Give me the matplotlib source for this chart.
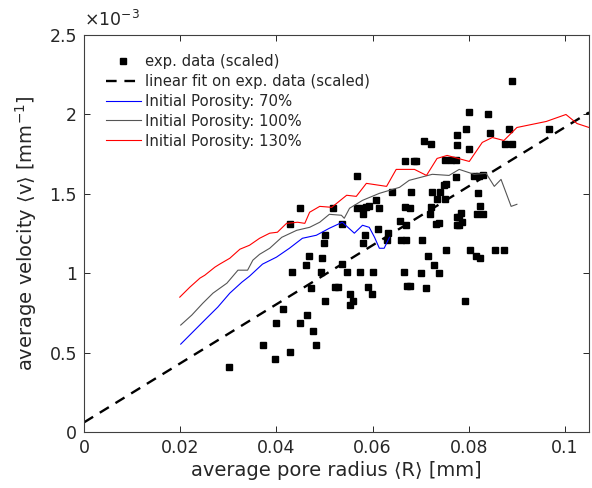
import numpy as np
import matplotlib
matplotlib.use("Agg")
import matplotlib.pyplot as plt
from matplotlib.ticker import FuncFormatter

# experimental data (scaled), velocity in units of 1e-3
exp_radius = [
    0.0301, 0.0373, 0.0396, 0.0429, 0.0400, 0.0448, 0.0413, 0.0463, 0.0477, 0.0483,
    0.0471, 0.0500, 0.0429, 0.0448, 0.0500, 0.0498, 0.0467, 0.0494, 0.0461, 0.0432,
    0.0492, 0.0546, 0.0573, 0.0600, 0.0537, 0.0521, 0.0527, 0.0591, 0.0554, 0.0560,
    0.0554, 0.0598, 0.0517, 0.0568, 0.0579, 0.0587, 0.0593, 0.0614, 0.0608, 0.0585,
    0.0581, 0.0568, 0.0641, 0.0680, 0.0724, 0.0741, 0.0668, 0.0685, 0.0691, 0.0751,
    0.0763, 0.0774, 0.0707, 0.0722, 0.0776, 0.0776, 0.0749, 0.0753, 0.0734, 0.0751,
    0.0668, 0.0678, 0.0722, 0.0720, 0.0737, 0.0732, 0.0656, 0.0776, 0.0776, 0.0612,
    0.0537, 0.0670, 0.0633, 0.0629, 0.0660, 0.0670, 0.0703, 0.0753, 0.0716, 0.0728,
    0.0739, 0.0666, 0.0701, 0.0672, 0.0678, 0.0712, 0.0579, 0.0824, 0.0817, 0.0830,
    0.0784, 0.0780, 0.0786, 0.0780, 0.0774, 0.0811, 0.0822, 0.0830, 0.0820, 0.0801,
    0.0840, 0.0795, 0.0844, 0.0801, 0.0890, 0.0884, 0.0967, 0.0876, 0.0890, 0.0803,
    0.0815, 0.0824, 0.0855, 0.0873, 0.0793,
]
exp_velocity = [
    0.409, 0.547, 0.459, 0.503, 0.686, 0.686, 0.774, 0.736, 0.635, 0.547,
    0.906, 0.824, 1.308, 1.409, 1.239, 1.189, 1.107, 1.094, 1.050, 1.006,
    1.006, 1.006, 1.006, 1.006, 1.057, 0.912, 0.912, 0.912, 0.868, 0.824,
    0.799, 0.868, 1.409, 1.409, 1.409, 1.415, 1.421, 1.409, 1.459, 1.239,
    1.189, 1.610, 1.509, 1.509, 1.509, 1.509, 1.704, 1.704, 1.704, 1.711,
    1.711, 1.711, 1.830, 1.811, 1.868, 1.805, 1.553, 1.560, 1.465, 1.465,
    1.415, 1.409, 1.415, 1.371, 1.314, 1.308, 1.327, 1.352, 1.302, 1.277,
    1.308, 1.302, 1.252, 1.208, 1.208, 1.208, 1.208, 1.145, 1.107, 1.050,
    1.000, 1.006, 1.000, 0.918, 0.918, 0.906, 1.371, 1.421, 1.371, 1.371,
    1.377, 1.352, 1.321, 1.302, 1.604, 1.610, 1.610, 1.616, 1.503, 2.013,
    2.006, 1.906, 1.881, 1.780, 2.208, 1.906, 1.906, 1.811, 1.811, 1.145,
    1.107, 1.094, 1.145, 1.145, 0.824,
]

# linear fit on exp. data (scaled)
fit_intercept = 0.06
fit_slope = 18.6

# simulations
r70 = [0.0201, 0.0226, 0.0255, 0.0278, 0.0303, 0.0328, 0.0344, 0.0371, 0.0400, 0.0427,
       0.0454, 0.0483, 0.0510, 0.0537, 0.0562, 0.0579, 0.0593, 0.0604, 0.0614, 0.0624,
       0.0635]
v70 = [0.553, 0.629, 0.717, 0.786, 0.874, 0.943, 0.981, 1.057, 1.101, 1.157,
       1.220, 1.239, 1.283, 1.321, 1.252, 1.302, 1.289, 1.226, 1.157, 1.157,
       1.226]

r100 = [0.0201, 0.0224, 0.0247, 0.0268, 0.0297, 0.0320, 0.0340, 0.0351, 0.0365, 0.0386,
        0.0411, 0.0442, 0.0469, 0.0490, 0.0510, 0.0535, 0.0541, 0.0552, 0.0579, 0.0614,
        0.0656, 0.0676, 0.0724, 0.0759, 0.0780, 0.0811, 0.0836, 0.0853, 0.0867, 0.0888,
        0.0900]
v100 = [0.673, 0.736, 0.811, 0.874, 0.937, 1.019, 1.019, 1.082, 1.119, 1.157,
        1.226, 1.270, 1.289, 1.321, 1.371, 1.365, 1.346, 1.409, 1.459, 1.503,
        1.541, 1.585, 1.623, 1.616, 1.654, 1.623, 1.629, 1.547, 1.591, 1.421,
        1.434]

r130 = [0.0199, 0.0220, 0.0241, 0.0251, 0.0272, 0.0282, 0.0303, 0.0324, 0.0344, 0.0365,
        0.0386, 0.0402, 0.0421, 0.0444, 0.0459, 0.0469, 0.0490, 0.0515, 0.0546, 0.0566,
        0.0587, 0.0629, 0.0649, 0.0687, 0.0712, 0.0734, 0.0755, 0.0801, 0.0828, 0.0849,
        0.0873, 0.0900, 0.0961, 0.1002, 0.1025, 0.1050]
v130 = [0.849, 0.912, 0.969, 0.987, 1.038, 1.057, 1.094, 1.151, 1.176, 1.220,
        1.252, 1.258, 1.314, 1.321, 1.314, 1.384, 1.421, 1.415, 1.491, 1.484,
        1.566, 1.547, 1.654, 1.654, 1.616, 1.723, 1.742, 1.704, 1.824, 1.855,
        1.836, 1.918, 1.956, 2.000, 1.943, 1.918]

X_MAX = 0.105
Y_MAX = 2.5
TEXT_COLOR = "#262626"

fig = plt.figure(figsize=(5.92, 4.88), dpi=100)
ax = fig.add_axes([0.142, 0.115, 0.853, 0.813])

ax.plot(exp_radius, exp_velocity, "s", color="black", markersize=3.8,
        label="exp. data (scaled)")
fit_x = np.array([0.0, X_MAX])
ax.plot(fit_x, fit_intercept + fit_slope * fit_x, color="black", linewidth=1.7,
        dashes=(4.5, 3.3), label="linear fit on exp. data (scaled)")
ax.plot(r70, v70, color="#0000ff", linewidth=0.8, label="Initial Porosity: 70%")
ax.plot(r100, v100, color="#555555", linewidth=0.8, label="Initial Porosity: 100%")
ax.plot(r130, v130, color="#ff0000", linewidth=0.8, label="Initial Porosity: 130%")

ax.set_xlim(0, X_MAX)
ax.set_ylim(0, Y_MAX)
ax.set_xticks([0, 0.02, 0.04, 0.06, 0.08, 0.1])
ax.set_yticks([0, 0.5, 1, 1.5, 2, 2.5])
fmt = FuncFormatter(lambda v, p: "%g" % v)
ax.xaxis.set_major_formatter(fmt)
ax.yaxis.set_major_formatter(fmt)
ax.tick_params(direction="in", top=True, right=True, length=4, width=0.7,
               labelsize=12.5, colors=TEXT_COLOR, pad=5)
for s in ax.spines.values():
    s.set_color("#404040")
    s.set_linewidth(0.8)

ax.set_xlabel("average pore radius \u27e8R\u27e9 [mm]", fontsize=14, color=TEXT_COLOR,
              labelpad=3)
ax.set_ylabel("average velocity \u27e8v\u27e9 [mm$^{-1}$]", fontsize=14, color=TEXT_COLOR,
              labelpad=8)
ax.text(0.0, 1.012, "\u00d710$^{-3}$", transform=ax.transAxes, fontsize=12.5,
        color=TEXT_COLOR, ha="left", va="bottom")

leg = ax.legend(loc="upper left", bbox_to_anchor=(0.025, 0.975), frameon=False,
                fontsize=10.7, numpoints=1, handlelength=2.4, handletextpad=0.25,
                labelspacing=0.33, borderaxespad=0.2)
for t in leg.get_texts():
    t.set_color(TEXT_COLOR)

fig.savefig("out.png", dpi=100)
